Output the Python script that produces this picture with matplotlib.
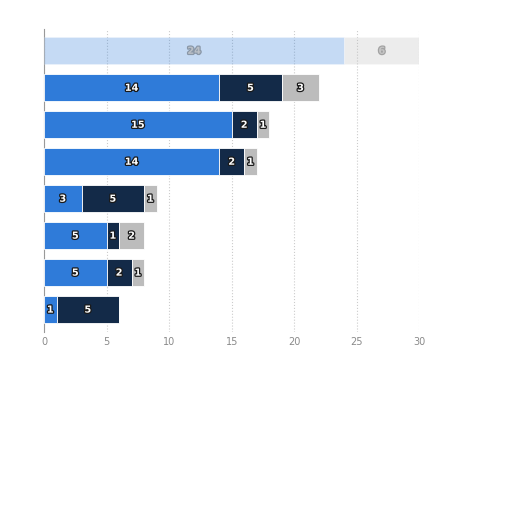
import matplotlib
matplotlib.use("Agg")
from matplotlib import pyplot as plt
import matplotlib.patheffects as pe
import numpy as np

# one row per bar, top to bottom
series_a = [24, 14, 15, 14, 3, 5, 5, 1]
series_b = [0, 5, 2, 2, 5, 1, 2, 5]
series_c = [6, 3, 1, 1, 1, 2, 1, 0]
x_ticks = [0, 5, 10, 15, 20, 25, 30]

colors = ["#2f7bd9", "#132a48", "#bcbcbc"]

fig = plt.figure(figsize=(5.12, 5.12), dpi=100)
ax = fig.add_axes([0.086, 0.352, 0.733, 0.592])

y = np.arange(len(series_a))
left = np.zeros(len(series_a))
stroke = [pe.withStroke(linewidth=1.8, foreground="#1a1a1a")]
for vals, col in zip([series_a, series_b, series_c], colors):
    vals = np.array(vals, dtype=float)
    bars = ax.barh(y, vals, left=left, height=0.73, color=col, edgecolor="white", linewidth=0.6, zorder=3)
    for i, (b, v) in enumerate(zip(bars, vals)):
        faded = i == 0
        if faded:
            # first row is dimmed in the reference
            b.set_alpha(0.28)
        if v > 0:
            ax.text(left[i] + v / 2, y[i], "%d" % v, ha="center", va="center",
                    color="white", fontsize=7, fontweight="bold",
                    path_effects=stroke, alpha=0.35 if faded else 1, zorder=4)
    left += vals

ax.set_xlim(0, 30)
ax.set_ylim(len(series_a) - 0.4, -0.6)
ax.set_xticks(x_ticks)
ax.set_yticks([])
ax.tick_params(axis="x", length=0, labelsize=7, colors="#8a8a8a", pad=4)
ax.grid(axis="x", linestyle=":", color="#cccccc", linewidth=0.8, zorder=0)
for s in ["top", "right", "bottom"]:
    ax.spines[s].set_visible(False)
ax.spines["left"].set_color("#999999")
ax.spines["left"].set_linewidth(0.8)

plt.savefig("out.png", dpi=100)
